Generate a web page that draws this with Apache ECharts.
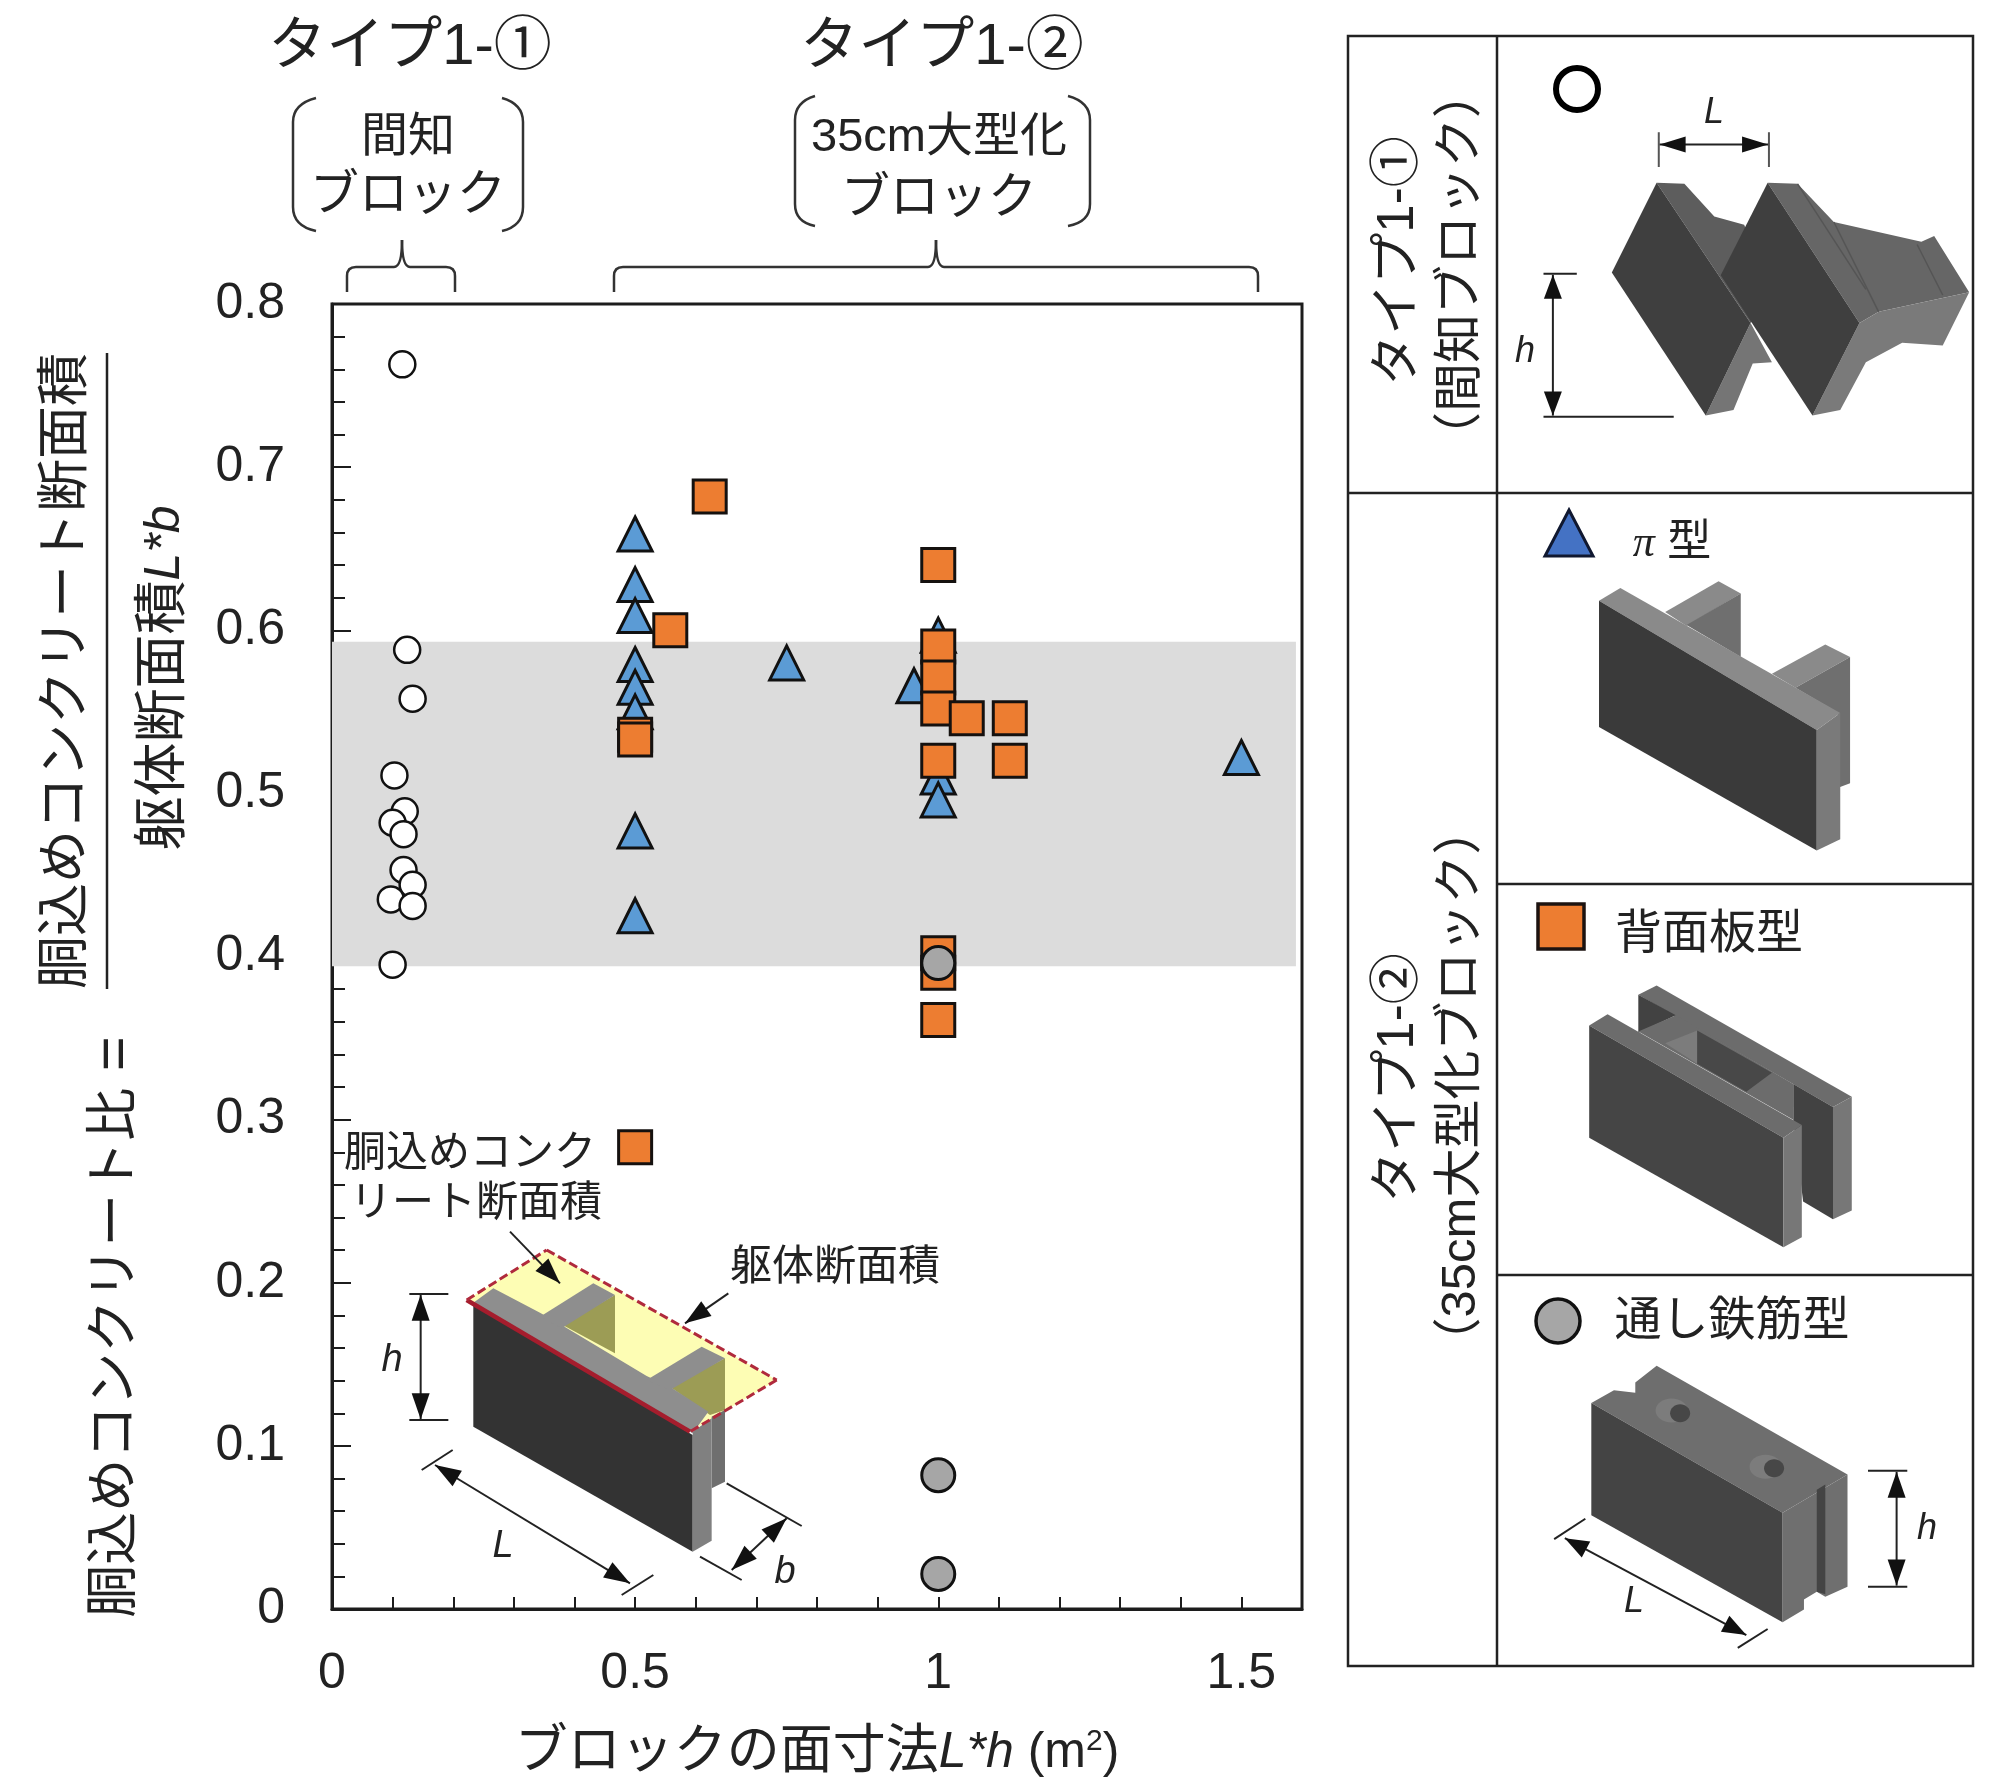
<!DOCTYPE html>
<html>
<head>
<meta charset="utf-8">
<title>胴込めコンクリート比</title>
<style>
  html, body { margin: 0; padding: 0; background: #fff; }
  #main { width: 1997px; height: 1783px; }
</style>
</head>
<body>
<div id="main"></div>
<script src="https://cdn.jsdelivr.net/npm/echarts@6/dist/echarts.min.js"></script>
<script>
// values: [L*h (m2), concrete ratio]
var typeOneCircle = [
  [0.116, 0.763], [0.124, 0.588], [0.133, 0.558], [0.103, 0.511],
  [0.12, 0.489], [0.1, 0.482], [0.118, 0.475], [0.118, 0.453],
  [0.133, 0.444], [0.097, 0.435], [0.133, 0.431], [0.1, 0.395]
];
var piType = [
  [0.5, 0.659], [0.5, 0.628], [0.5, 0.609], [0.5, 0.579], [0.5, 0.565],
  [0.5, 0.55], [0.5, 0.477], [0.5, 0.425], [0.75, 0.58], [0.96, 0.566],
  [1, 0.597], [1, 0.51], [1, 0.496], [1.5, 0.522]
];
var backPlateType = [
  [0.5, 0.536], [0.5, 0.533], [0.5, 0.283], [0.558, 0.6], [0.623, 0.682],
  [1, 0.64], [1, 0.59], [1, 0.571], [1, 0.552], [1, 0.52],
  [1, 0.402], [1, 0.39], [1, 0.361], [1.047, 0.546], [1.118, 0.546], [1.118, 0.52]
];
var rebarType = [[1, 0.396], [1, 0.082], [1, 0.0215]];
var bandRange = [0.394, 0.593];
var bandRight = 1.59;
var xTicks = [0, 0.1, 0.2, 0.3, 0.4, 0.5, 0.6, 0.7, 0.8, 0.9, 1, 1.1, 1.2, 1.3, 1.4, 1.5];
var xLabels = [0, 0.5, 1, 1.5];

var FONT = '"Liberation Sans","Noto Sans CJK JP",sans-serif';
var INK = "#1c1c1c";
var g = [];

// the sketches were measured in crops, so each has its own small mapping to page px
var mapA = function(p) { return [1330 + p[0] / 2.342, 20 + p[1] / 1.782]; };
var mapB = function(p) { return [1330 + p[0] / 2.342, 880 + p[1] / 1.96]; };
var mapC = function(p) { return [340 + p[0] / 3, 1120 + p[1] / 3]; };
var mapP = function(p) { return p; };

function poly(map, pts, fill, stroke, width) {
  g.push({
    type: "polygon",
    shape: { points: pts.map(map) },
    style: { fill: fill, stroke: stroke || null, lineWidth: width || 0 }
  });
}
function line(map, a, b, color, width, dash) {
  var p = map(a), q = map(b);
  g.push({
    type: "line",
    shape: { x1: p[0], y1: p[1], x2: q[0], y2: q[1] },
    style: { stroke: color || INK, lineWidth: width || 2, lineDash: dash || null }
  });
}
function head(p, q, len, wid) {
  // arrow head with the tip on p
  var dx = q[0] - p[0], dy = q[1] - p[1];
  var d = Math.sqrt(dx * dx + dy * dy);
  dx /= d; dy /= d;
  var bx = p[0] + dx * len, by = p[1] + dy * len;
  g.push({
    type: "polygon",
    shape: { points: [p, [bx - dy * wid, by + dx * wid], [bx + dy * wid, by - dx * wid]] },
    style: { fill: "#111" }
  });
}
function arrow(map, a, b, both, len, wid) {
  var p = map(a), q = map(b);
  line(mapP, p, q, "#222", 2);
  head(q, p, len || 20, wid || 8);
  if (both) head(p, q, len || 20, wid || 8);
}
function text(str, x, y, size, opt) {
  opt = opt || {};
  // CJK glyphs sit a little high in their box, push them down the glyph's own way
  var nudge = opt.italic ? 0 : 4;
  g.push({
    type: "text",
    x: opt.rot ? x + nudge : x,
    y: opt.rot ? y : y + nudge,
    rotation: opt.rot ? Math.PI / 2 : 0,
    z: 10,
    style: {
      text: str,
      fontFamily: FONT,
      fontSize: size,
      fontStyle: opt.italic ? "italic" : "normal",
      fill: opt.fill || "#222",
      align: "center",
      verticalAlign: "middle",
      rich: opt.rich
    }
  });
}
// bracket: a start point, then [x, y] straight pieces and [cx, cy, x, y] curved pieces
function bracket(start, segs) {
  var cur = start;
  segs.forEach(function(s) {
    var end = s.length === 2 ? s : [s[2], s[3]];
    var st = { fill: null, stroke: "#333", lineWidth: 2.5 };
    if (s.length === 2) {
      g.push({ type: "line", shape: { x1: cur[0], y1: cur[1], x2: end[0], y2: end[1] }, style: st });
    } else {
      g.push({
        type: "bezierCurve",
        shape: { x1: cur[0], y1: cur[1], x2: end[0], y2: end[1], cpx1: s[0], cpy1: s[1] },
        style: st
      });
    }
    cur = end;
  });
}

// ---- headings above the plot
text("タイプ1-①", 410, 44, 58);
text("タイプ1-②", 942, 44, 58);
text("間知", 408, 134, 47);
text("ブロック", 408, 192, 49);
text("35cm大型化", 939, 134, 47);
text("ブロック", 939, 195, 49);

bracket([316, 98], [[293, 104, 293, 122], [293, 207], [293, 226, 316, 231]]);
bracket([502, 98], [[523, 104, 523, 122], [523, 207], [523, 226, 502, 231]]);
bracket([815, 96], [[795, 102, 795, 120], [795, 204], [795, 222, 815, 226]]);
bracket([1068, 96], [[1090, 102, 1090, 120], [1090, 204], [1090, 222, 1068, 226]]);
// curly brackets
bracket([347, 292], [[347, 276], [347, 267, 356, 267], [394, 267], [402, 267, 402, 240], [402, 267, 410, 267], [446, 267], [455, 267, 455, 276], [455, 292]]);
bracket([614, 292], [[614, 276], [614, 267, 623, 267], [928, 267], [936, 267, 936, 240], [936, 267, 944, 267], [1249, 267], [1258, 267, 1258, 276], [1258, 292]]);

// ---- y axis title (fraction)
text("胴込めコンクリート断面積", 63, 671, 53, { rot: true });
line(mapP, [107, 353], [107, 989], "#222", 2.5);
text("躯体断面積{i|L*b}", 161, 678, 54, {
  rot: true,
  rich: { i: { fontFamily: FONT, fontSize: 50, fontStyle: "italic", fill: "#222" } }
});
text("胴込めコンクリート比{e| =}", 112, 1327, 53, {
  rot: true,
  rich: { e: { fontFamily: FONT, fontSize: 60, fill: "#222" } }
});

// ---- inset block on the plot
poly(mapC, [[380, 540], [620, 390], [1310, 780], [1050, 935]], "#fdfdb4");
poly(mapC, [[400, 550], [1058, 945], [1058, 1295], [400, 920]], "#333333");
poly(mapC, [[1115, 890], [1155, 870], [1155, 1085], [1115, 1105]], "#6f6f6f");
poly(mapC, [[1058, 935], [1115, 895], [1115, 1262], [1058, 1295]], "#808080");
poly(mapC, [[668, 615], [825, 525], [825, 700]], "#9c9c55");
poly(mapC, [[990, 800], [1155, 715], [1155, 870], [1110, 885]], "#9c9c55");
poly(mapC, [[400, 548], [460, 505], [600, 578], [665, 615], [920, 768], [990, 800], [1105, 875], [1058, 940]], "#8e8e8e");
poly(mapC, [[600, 590], [760, 490], [825, 525], [665, 625]], "#8e8e8e");
poly(mapC, [[920, 780], [1085, 680], [1155, 715], [990, 810]], "#8e8e8e");
line(mapC, [380, 540], [1050, 935], "#a51d2d", 4.5);
line(mapC, [380, 540], [620, 390], "#b02a3c", 3, [9, 4]);
line(mapC, [620, 390], [1310, 780], "#b02a3c", 3, [9, 4]);
line(mapC, [1310, 780], [1050, 935], "#b02a3c", 3, [9, 4]);

line(mapC, [208, 522], [325, 522], "#222", 2);
line(mapC, [208, 900], [325, 900], "#222", 2);
arrow(mapC, [242, 524], [242, 898], true, 26, 9);
text("h", 392, 1360, 38, { italic: true });
line(mapC, [245, 1050], [338, 990], "#222", 2);
line(mapC, [845, 1425], [940, 1365], "#222", 2);
arrow(mapC, [285, 1035], [870, 1390], true, 26, 9);
text("L", 503, 1546, 38, { italic: true });
line(mapC, [1160, 1090], [1385, 1218], "#222", 2);
line(mapC, [1080, 1310], [1205, 1380], "#222", 2);
arrow(mapC, [1340, 1195], [1175, 1350], true, 26, 9);
text("b", 785, 1572, 38, { italic: true });

text("胴込めコンク", 470, 1150, 42);
text("リート断面積", 476, 1200, 42);
text("躯体断面積", 835, 1264, 42);
arrow(mapC, [510, 335], [660, 490], false, 26, 9);
arrow(mapC, [1165, 520], [1035, 610], false, 26, 9);

// ---- table on the right
g.push({
  type: "rect",
  shape: { x: 1348, y: 36, width: 625, height: 1630 },
  style: { fill: null, stroke: "#222", lineWidth: 2.5 }
});
line(mapP, [1497, 36], [1497, 1666], "#222", 2.5);
line(mapP, [1348, 493], [1973, 493], "#222", 2.5);
line(mapP, [1497, 884], [1973, 884], "#222", 2.5);
line(mapP, [1497, 1275], [1973, 1275], "#222", 2.5);

text("タイプ1-①", 1395, 261, 51, { rot: true });
text("（間知ブロック）", 1457, 265, 49, { rot: true });
text("タイプ1-②", 1395, 1078, 51, { rot: true });
text("（35cm大型化ブロック）", 1457, 1086, 49, { rot: true });

// legend keys in the table
g.push({
  type: "circle", shape: { cx: 1577, cy: 89, r: 21 },
  style: { fill: "#fff", stroke: "#000", lineWidth: 6 }
});
poly(mapP, [[1569, 510], [1593, 556], [1545, 556]], "#4472c4", "#101830", 3);
text("{i|π} 型", 1672, 540, 44, {
  rich: { i: { fontFamily: '"Liberation Serif",serif', fontSize: 44, fontStyle: "italic", fill: "#222" } }
});
g.push({
  type: "rect", shape: { x: 1538, y: 904, width: 46, height: 45 },
  style: { fill: "#ed7d31", stroke: "#1c1310", lineWidth: 3.5 }
});
text("背面板型", 1709, 931, 47);
g.push({
  type: "circle", shape: { cx: 1558, cy: 1321, r: 22 },
  style: { fill: "#a6a6a6", stroke: "#111", lineWidth: 3.5 }
});
text("通し鉄筋型", 1732, 1318, 47);

// block: 間知
poly(mapA, [[765, 290], [830, 292], [900, 350], [970, 365], [1040, 500], [985, 540]], "#5d5d5d");
poly(mapA, [[985, 540], [1035, 610], [990, 612], [945, 695], [880, 705]], "#757575");
poly(mapA, [[1025, 290], [1095, 292], [1180, 360], [1385, 395], [1415, 385], [1497, 485], [1285, 520], [1240, 540]], "#666666");
poly(mapA, [[1240, 540], [1285, 520], [1497, 485], [1435, 580], [1340, 575], [1255, 610], [1195, 695], [1130, 705]], "#7a7a7a");
line(mapA, [1095, 292], [1255, 480], "#555", 1.5);
line(mapA, [1180, 360], [1285, 520], "#555", 1.5);
line(mapA, [1375, 400], [1435, 490], "#555", 1.5);
poly(mapA, [[765, 290], [985, 540], [880, 705], [660, 450]], "#3f3f3f");
poly(mapA, [[1025, 290], [1240, 540], [1130, 705], [915, 455]], "#3f3f3f");
line(mapA, [770, 200], [770, 262], "#555", 2);
line(mapA, [1028, 200], [1028, 262], "#555", 2);
arrow(mapA, [772, 222], [1026, 222], true, 26, 8);
text("L", 1714, 113, 36, { italic: true });
line(mapA, [500, 452], [578, 452], "#222", 2);
line(mapA, [500, 707], [805, 707], "#222", 2);
arrow(mapA, [522, 454], [522, 705], true, 24, 9);
text("h", 1525, 352, 36, { italic: true });

// block: π型
poly(mapA, [[785, 1055], [910, 1000], [962, 1022], [835, 1080]], "#8a8a8a");
poly(mapA, [[835, 1078], [962, 1022], [962, 1135]], "#6f6f6f");
poly(mapA, [[1035, 1165], [1160, 1113], [1218, 1135], [1090, 1190]], "#8a8a8a");
poly(mapA, [[1090, 1190], [1218, 1135], [1218, 1360], [1190, 1368], [1190, 1235]], "#6f6f6f");
poly(mapA, [[630, 1035], [680, 1012], [1195, 1235], [1140, 1265]], "#8a8a8a");
poly(mapA, [[630, 1035], [1140, 1265], [1140, 1480], [630, 1260]], "#3a3a3a");
poly(mapA, [[1140, 1265], [1195, 1235], [1195, 1460], [1140, 1480]], "#7a7a7a");

// block: 背面板型
poly(mapB, [[722, 225], [765, 207], [1222, 425], [1178, 445]], "#6c6c6c");
poly(mapB, [[722, 225], [810, 265], [722, 300]], "#424242");
poly(mapB, [[1085, 400], [1178, 445], [1178, 665], [1108, 630], [1085, 470]], "#424242");
poly(mapB, [[1178, 445], [1222, 425], [1222, 648], [1178, 665]], "#777777");
poly(mapB, [[722, 297], [810, 265], [1085, 400], [1085, 470]], "#6c6c6c");
poly(mapB, [[785, 320], [860, 295], [860, 360]], "#7c7c7c");
poly(mapB, [[860, 295], [1035, 378], [975, 415], [860, 360]], "#484848");
poly(mapB, [[607, 285], [650, 263], [1105, 480], [1062, 505]], "#6c6c6c");
poly(mapB, [[607, 285], [1062, 505], [1062, 720], [607, 505]], "#454545");
poly(mapB, [[1062, 505], [1105, 480], [1105, 700], [1062, 720]], "#777777");

// block: 通し鉄筋型
poly(mapB, [[612, 1025], [665, 1000], [715, 1005], [715, 985], [765, 952], [1212, 1165], [1060, 1240]], "#6e6e6e");
poly(mapB, [[612, 1025], [1060, 1240], [1060, 1455], [612, 1245]], "#444444");
poly(mapB, [[1060, 1240], [1212, 1165], [1212, 1385], [1160, 1405], [1140, 1395], [1110, 1410], [1110, 1430], [1060, 1455]], "#6f6f6f");
poly(mapB, [[1140, 1195], [1160, 1185], [1160, 1400], [1140, 1395]], "#444444");
g.push({ type: "ellipse", shape: { cx: 1330 + 800 / 2.342, cy: 880 + 1040 / 1.96, rx: 16, ry: 12 }, style: { fill: "#7c7c7c" } });
g.push({ type: "ellipse", shape: { cx: 1330 + 820 / 2.342, cy: 880 + 1045 / 1.96, rx: 10, ry: 9 }, style: { fill: "#474747" } });
g.push({ type: "ellipse", shape: { cx: 1330 + 1020 / 2.342, cy: 880 + 1150 / 1.96, rx: 16, ry: 12 }, style: { fill: "#7c7c7c" } });
g.push({ type: "ellipse", shape: { cx: 1330 + 1040 / 2.342, cy: 880 + 1153 / 1.96, rx: 10, ry: 9 }, style: { fill: "#474747" } });
line(mapB, [1260, 1158], [1352, 1158], "#222", 2);
line(mapB, [1260, 1385], [1352, 1385], "#222", 2);
arrow(mapB, [1327, 1160], [1327, 1383], true, 26, 9);
text("h", 1927, 1529, 36, { italic: true });
line(mapB, [525, 1292], [598, 1252], "#222", 2);
line(mapB, [955, 1505], [1025, 1468], "#222", 2);
arrow(mapB, [550, 1290], [975, 1480], true, 24, 9);
text("L", 1634, 1602, 36, { italic: true });

// ---- chart
var edge = { borderColor: "#15110f", borderWidth: 3 };
var option = {
  animation: false,
  backgroundColor: "#fff",
  grid: {
    show: true,
    left: 332,
    top: 304,
    width: 970,
    height: 1305,
    outerBoundsMode: "none",
    borderColor: INK,
    borderWidth: 3,
    backgroundColor: "transparent"
  },
  xAxis: {
    type: "value",
    min: 0,
    max: 1.6,
    splitLine: { show: false },
    axisLine: { lineStyle: { color: INK, width: 3 } },
    axisTick: { inside: true, length: 12, customValues: xTicks, lineStyle: { color: INK, width: 2 } },
    axisLabel: { customValues: xLabels, margin: 40, fontFamily: FONT, fontSize: 50, color: "#222" },
    name: "ブロックの面寸法{i|L*h}{t| (m}{s|2}{t|)}",
    nameLocation: "middle",
    nameGap: 118,
    nameTextStyle: {
      fontFamily: FONT,
      fontSize: 53,
      color: "#222",
      rich: {
        i: { fontFamily: FONT, fontSize: 50, fontStyle: "italic", color: "#222" },
        t: { fontFamily: FONT, fontSize: 50, color: "#222" },
        s: { fontFamily: FONT, fontSize: 30, color: "#222", verticalAlign: "top" }
      }
    }
  },
  yAxis: {
    type: "value",
    min: 0,
    max: 0.8,
    interval: 0.1,
    splitLine: { show: false },
    axisLine: { lineStyle: { color: INK, width: 3 } },
    axisTick: { inside: true, length: 19, lineStyle: { color: INK, width: 2 } },
    minorTick: { show: true, splitNumber: 5, length: 13, lineStyle: { color: INK, width: 2 } },
    axisLabel: { margin: 47, fontFamily: FONT, fontSize: 50, color: "#222" }
  },
  graphic: { elements: g },
  series: [
    {
      name: "タイプ1-①",
      type: "scatter",
      symbol: "circle",
      symbolSize: 26,
      itemStyle: { color: "#fff", borderColor: "#111", borderWidth: 2.5, opacity: 1 },
      data: typeOneCircle,
      markArea: {
        silent: true,
        itemStyle: { color: "#dcdcdc" },
        data: [[{ coord: [0, bandRange[1]] }, { coord: [bandRight, bandRange[0]] }]]
      }
    },
    {
      name: "π型",
      type: "scatter",
      symbol: "triangle",
      symbolSize: [34, 34],
      itemStyle: { color: "#5b9bd5", borderColor: "#111", borderWidth: 3, opacity: 1 },
      data: piType
    },
    {
      name: "背面板型",
      type: "scatter",
      symbol: "rect",
      symbolSize: 33,
      itemStyle: Object.assign({ color: "#ed7d31", opacity: 1 }, edge),
      data: backPlateType
    },
    {
      name: "通し鉄筋型",
      type: "scatter",
      symbol: "circle",
      symbolSize: 33,
      itemStyle: { color: "#a6a6a6", borderColor: "#111", borderWidth: 3, opacity: 1 },
      data: rebarType
    }
  ]
};
var chart = echarts.init(document.getElementById("main"));
chart.setOption(option);
</script>
</body>
</html>
